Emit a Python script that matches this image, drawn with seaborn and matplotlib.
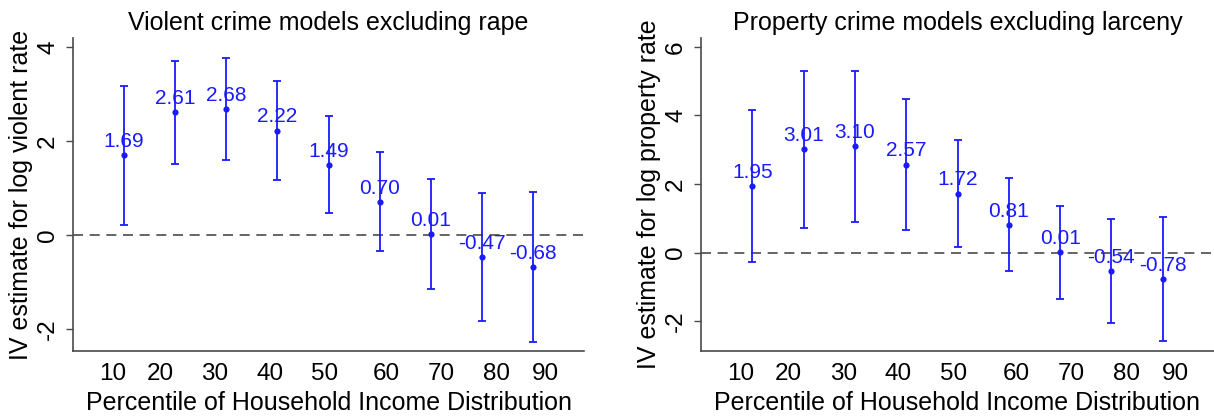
import matplotlib
matplotlib.use("Agg")
import matplotlib.pyplot as plt
import seaborn as sns
import numpy as np
import pandas as pd

percentiles = [10, 20, 30, 40, 50, 60, 70, 80, 90]
tick_labels = ["10", "20", "30", "40", "50", "60", "70", "80", "90"]
tick_label_pos = [7.7, 17.0, 27.8, 38.5, 49.3, 61.4, 72.1, 82.9, 92.5]

violent_est = [1.69, 2.61, 2.68, 2.22, 1.49, 0.70, 0.01, -0.47, -0.68]
violent_hi = [3.16, 3.71, 3.77, 3.28, 2.52, 1.76, 1.18, 0.90, 0.91]
violent_lo = [0.21, 1.51, 1.59, 1.16, 0.46, -0.35, -1.16, -1.83, -2.27]

property_est = [1.95, 3.01, 3.10, 2.57, 1.72, 0.81, 0.01, -0.54, -0.78]
property_hi = [4.17, 5.29, 5.30, 4.47, 3.29, 2.17, 1.37, 0.98, 1.03]
property_lo = [-0.28, 0.72, 0.88, 0.66, 0.16, -0.55, -1.34, -2.06, -2.58]

titles = ["Violent crime models excluding rape", "Property crime models excluding larceny"]
ylabels = ["IV estimate for log violent rate", "IV estimate for log property rate"]
xlabel = "Percentile of Household Income Distribution"

sns.set_style("white")
plt.rcParams["font.family"] = ["Liberation Sans", "DejaVu Sans"]
plt.rcParams["text.color"] = "black"
plt.rcParams["axes.labelcolor"] = "black"
plt.rcParams["xtick.color"] = "black"
plt.rcParams["ytick.color"] = "black"

BLUE = "#1a1aff"
GREY = "#4a4a4a"

fig = plt.figure(figsize=(12.14, 4.17), dpi=100)
ax1 = fig.add_axes([73 / 1214, 66 / 417, 511 / 1214, 313 / 417])
ax2 = fig.add_axes([701 / 1214, 66 / 417, 513 / 1214, 313 / 417])

panels = [
    (ax1, violent_est, violent_lo, violent_hi, (-2.47, 4.19), [-2, 0, 2, 4]),
    (ax2, property_est, property_lo, property_hi, (-2.87, 6.26), [-2, 0, 2, 4, 6]),
]

for i, (ax, est, lo, hi, ylim, yticks) in enumerate(panels):
    df = pd.DataFrame({"pct": percentiles, "est": est, "lo": lo, "hi": hi})
    ax.axhline(0, color=GREY, lw=1.2, ls=(0, (6, 4)), zorder=1)
    err = np.vstack([df["est"] - df["lo"], df["hi"] - df["est"]])
    ax.errorbar(df["pct"], df["est"], yerr=err, fmt="none", ecolor=BLUE,
                elinewidth=1.3, capsize=2.6, capthick=1.3, zorder=2)
    sns.scatterplot(data=df, x="pct", y="est", ax=ax, color=BLUE, s=20,
                    edgecolor=BLUE, linewidth=0, zorder=3)
    for x, y in zip(df["pct"], df["est"]):
        ax.annotate(f"{y:.2f}", (x, y), xytext=(0, 3), textcoords="offset points",
                    ha="center", va="bottom", color=BLUE, fontsize=15, zorder=4)
    ax.set_xlim(0, 100)
    ax.set_ylim(*ylim)
    ax.set_xticks(tick_label_pos)
    ax.set_xticklabels(tick_labels, fontsize=17.5)
    ax.tick_params(axis="x", length=0, pad=9)
    ax.set_xticks([50], minor=True)
    ax.tick_params(axis="x", which="minor", length=5, width=1, color=GREY)
    ax.set_yticks(yticks)
    ax.set_yticklabels([str(t) for t in yticks], rotation=90, va="center", fontsize=17.5)
    ax.tick_params(axis="y", length=5, width=1, color=GREY, pad=5, left=True)
    for s in ["top", "right"]:
        ax.spines[s].set_visible(False)
    for s in ["left", "bottom"]:
        ax.spines[s].set_color(GREY)
        ax.spines[s].set_linewidth(1.2)
    ax.set_xlabel(xlabel, fontsize=18, labelpad=4)
    ax.set_ylabel(ylabels[i], fontsize=18, labelpad=3)
    ax.set_title(titles[i], fontsize=18, pad=6)

fig.savefig("out.png", dpi=100)
